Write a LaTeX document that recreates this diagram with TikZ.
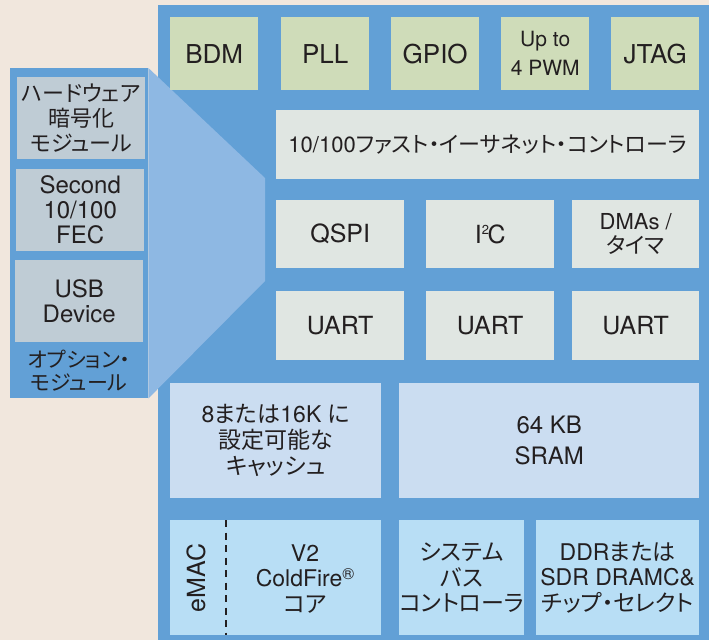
\documentclass[tikz,border=0pt]{standalone}
\usepackage{fontspec}
\setmainfont{TeX Gyre Heros}
\newfontfamily\jp[RawFeature={+palt}]{Noto Sans CJK JP}
\definecolor{cbg}{HTML}{F1E7DD}
\definecolor{cmain}{HTML}{62A0D6}
\definecolor{clight}{HTML}{8EB8E3}
\definecolor{cgreen}{HTML}{CFDCB9}
\definecolor{clgray}{HTML}{E0E6E2}
\definecolor{cpgray}{HTML}{BFCCD5}
\definecolor{ccache}{HTML}{CBDDF1}
\definecolor{cbottom}{HTML}{B8DEF5}
\definecolor{ink}{HTML}{231F20}
\tikzset{
  box/.style={draw=none, inner sep=0pt, anchor=north west, align=center, text=ink},
  greenbox/.style={box, fill=cgreen, minimum width=88pt, minimum height=73pt, font=\fontsize{26}{28}\selectfont},
  graybox/.style={box, fill=clgray, font=\fontsize{25}{27}\selectfont},
  panelbox/.style={box, fill=cpgray, minimum width=128pt, minimum height=82pt, font=\fontsize{22}{25}\selectfont},
  cachebox/.style={box, fill=ccache, minimum height=115pt, font=\fontsize{23}{26}\selectfont},
  botbox/.style={box, fill=cbottom, minimum height=115pt, font=\fontsize{23}{25.5}\selectfont},
  plain/.style={inner sep=0pt, align=center, text=ink},
  divider/.style={draw=ink, line width=2.2pt, dash pattern=on 7pt off 5.5pt}
}
\begin{document}
\begin{tikzpicture}[x=1pt,y=-1pt]
\useasboundingbox (0,0) rectangle (709,640);
\fill[cbg] (0,0) rectangle (709,640);
% main chip area
\node[box, fill=cmain, minimum width=551pt, minimum height=635pt] (chip) at (158,5) {};
% optional modules panel
\node[box, fill=cmain, minimum width=138pt, minimum height=330pt] (opt) at (10,68) {};
\fill[clight] (opt.north east) -- (265,178) -- (265,281) -- (opt.south east) -- cycle;
\node[panelbox] (hw) at (17,77) {\jp ハードウェア\\\jp 暗号化\\\jp モジュール};
\node[panelbox, font=\fontsize{24}{25}\selectfont] (sec) at (16,169) {Second\\10/100\\FEC};
\node[panelbox, font=\fontsize{24}{25}\selectfont] (usb) at (15,260) {USB\\Device};
\node[plain, font=\fontsize{21}{23}\jp] (optlbl) at (79,371) {オプション・\\モジュール};
% top row
\node[greenbox] (bdm) at (170,17) {BDM};
\node[greenbox] (pll) at (281,17) {PLL};
\node[greenbox] (gpio) at (391,17) {GPIO};
\node[greenbox, font=\fontsize{21}{29}\selectfont] (pwm) at (501,17) {Up to\\4 PWM};
\node[greenbox] (jtag) at (611,17) {JTAG};
% ethernet
\node[graybox, minimum width=423pt, minimum height=69pt, font=\fontsize{22}{25}\selectfont] (eth) at (276,110) {10/100{\jp ファスト・イーサネット・コントローラ}};
% row 2
\node[graybox, minimum width=128pt, minimum height=68pt] (qspi) at (276,200) {QSPI};
\node[graybox, minimum width=128pt, minimum height=68pt] (i2c) at (426,200) {I\raisebox{9pt}{\fontsize{13}{13}\selectfont 2}\kern-1.5pt C};
\node[graybox, minimum width=127pt, minimum height=68pt, font=\fontsize{22}{24}\selectfont] (dma) at (572,200) {DMAs /\\{\jp タイマ}};
% row 3
\node[graybox, minimum width=128pt, minimum height=69pt] (uarta) at (276,291) {UART};
\node[graybox, minimum width=128pt, minimum height=69pt] (uartb) at (426,291) {UART};
\node[graybox, minimum width=127pt, minimum height=69pt] (uartc) at (572,291) {UART};
% row 4
\node[cachebox, minimum width=211pt] (cache) at (170,383) {8{\jp または}16K {\jp に}\\{\jp 設定可能な}\\{\jp キャッシュ}};
\node[cachebox, minimum width=300pt, font=\fontsize{24}{31}\selectfont] (sram) at (399,383) {64 KB\\SRAM};
% row 5
\node[botbox, minimum width=211pt] (core) at (170,520) {};
\node[plain, rotate=90, font=\fontsize{25}{27}\selectfont] (emac) at (196,578) {eMAC};
\node[plain, font=\fontsize{23}{25.5}\selectfont] (v2) at (305,579) {V2\\ColdFire\raisebox{7pt}{\fontsize{16}{16}\selectfont ®}\\{\jp コア}};
\coordinate (dtop) at (226,520);
\coordinate (dbot) at (226,635);
\draw[divider] (dtop) -- (dbot);
\node[botbox, minimum width=119pt] (sysbus) at (399,520) {{\jp システム}\\{\jp バス}\\{\jp コントローラ}};
\node[botbox, minimum width=163pt] (ddr) at (536,520) {DDR{\jp または}\\SDR DRAMC\&\\{\jp チップ・セレクト}};
\end{tikzpicture}
\end{document}
